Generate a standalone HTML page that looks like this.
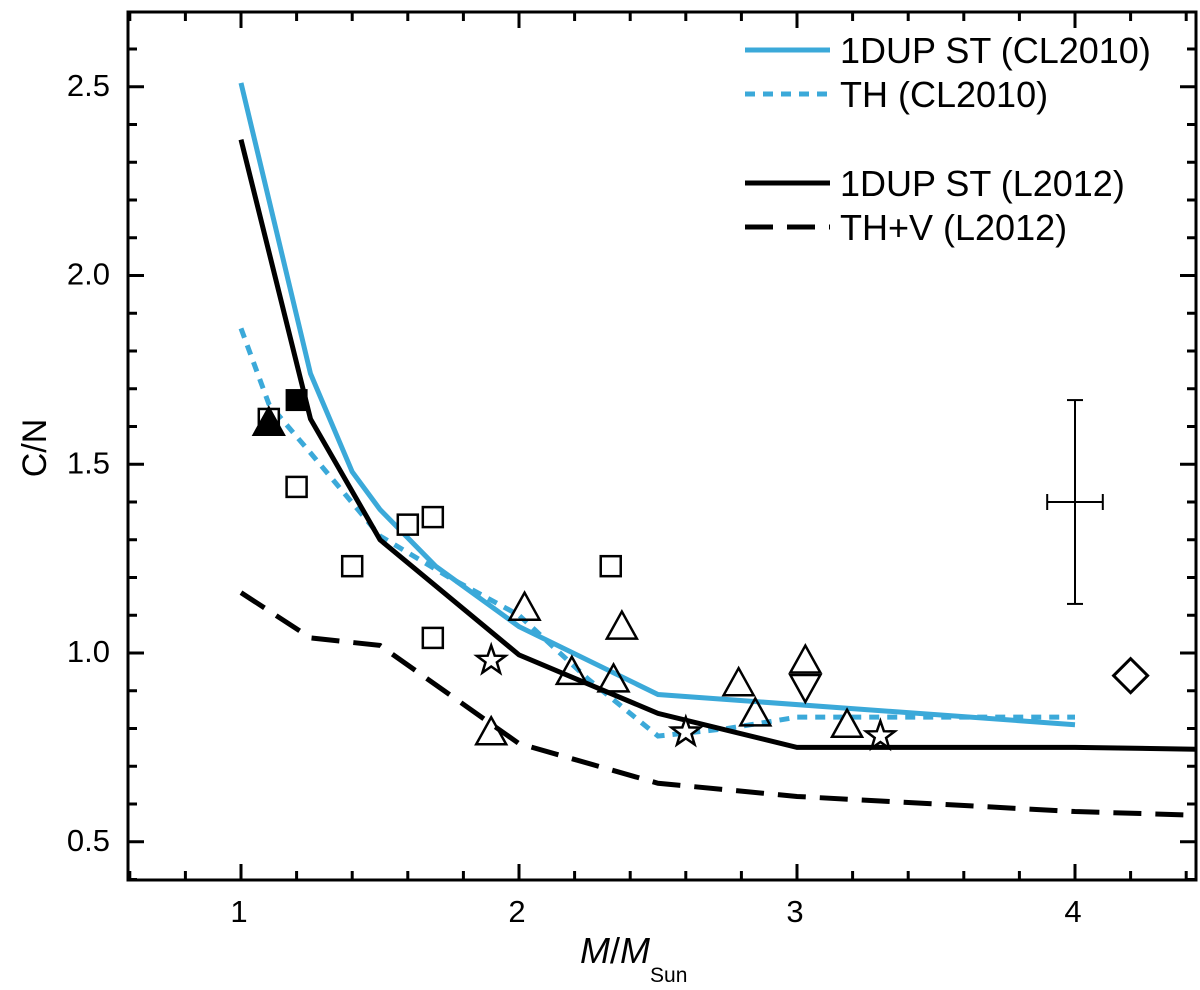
<!DOCTYPE html>
<html><head><meta charset="utf-8"><style>
body{margin:0;background:#fff}
svg text{font-family:"Liberation Sans",Arial,sans-serif;fill:#000}
</style></head><body>
<svg id="chart" width="1200" height="985" viewBox="0 0 1200 985" xmlns="http://www.w3.org/2000/svg"></svg>
<script>
const blueSolidX=[1,1.25,1.4,1.5,1.7,2,2.5,4];
const blueSolidY=[2.51,1.74,1.48,1.38,1.23,1.07,0.89,0.81];
const blueDashX=[1,1.1,1.25,1.5,1.75,2,2.25,2.5,2.75,3,3.5,4];
const blueDashY=[1.86,1.66,1.53,1.31,1.2,1.1,0.93,0.78,0.80,0.83,0.83,0.83];
const blackSolidX=[1,1.25,1.5,2,2.5,3,4,4.45];
const blackSolidY=[2.36,1.62,1.30,0.995,0.84,0.75,0.75,0.745];
const blackDashX=[1,1.25,1.5,2,2.5,3,4,4.45];
const blackDashY=[1.16,1.04,1.02,0.76,0.655,0.62,0.58,0.57];
const sqX=[1.1,1.2,1.4,1.6,1.69,1.69,2.33];
const sqY=[1.62,1.44,1.23,1.34,1.36,1.04,1.23];
const triX=[2.02,2.37,2.19,2.34,1.9,2.79,2.85,3.03,3.18];
const triY=[1.12,1.07,0.95,0.93,0.79,0.92,0.84,0.98,0.81];
const starX=[1.9,2.6,3.3];
const starY=[0.98,0.79,0.78];
const xTicks=[1,2,3,4];
const yTicks=[0.5,1.0,1.5,2.0,2.5];

const NS="http://www.w3.org/2000/svg";
const svg=document.getElementById('chart');
const L=128,R=1196,T=12,B=880;
const X=v=>241+(v-1)*278;
const Y=v=>653-(v-1)*377.5;
function mk(tag,attrs,parent){const e=document.createElementNS(NS,tag);for(const k in attrs)e.setAttribute(k,attrs[k]);(parent||svg).appendChild(e);return e;}
const clip=mk('clipPath',{id:'pc'});mk('rect',{x:L,y:T,width:R-L,height:B-T},clip);
const g=mk('g',{'clip-path':'url(#pc)'});
const f=mk('rect',{x:L,y:T,width:R-L,height:B-T,fill:'none',stroke:'#000','stroke-width':3});


for(let v=0.6;v<=4.41;v+=0.2){const x=X(v);const maj=Math.abs(v-Math.round(v))<0.01;const len=maj?16:9;
mk('line',{x1:x,x2:x,y1:B,y2:B-len,stroke:'#000','stroke-width':3});mk('line',{x1:x,x2:x,y1:T,y2:T+len,stroke:'#000','stroke-width':3});}
for(let v=0.4;v<=2.69;v+=0.1){const y=Y(v);const maj=Math.abs(v*2-Math.round(v*2))<0.01;const len=maj?16:9;
mk('line',{x1:L,x2:L+len,y1:y,y2:y,stroke:'#000','stroke-width':3});mk('line',{x1:R,x2:R-len,y1:y,y2:y,stroke:'#000','stroke-width':3});}
xTicks.forEach(v=>{const t=mk('text',{x:X(v)-2,y:922,'text-anchor':'middle','font-size':31});t.textContent=v;

});
yTicks.forEach(v=>{const t=mk('text',{x:110,y:Y(v)+9,'text-anchor':'end','font-size':31});t.textContent=v.toFixed(1);

});
const xt=mk('text',{x:580,y:963,'font-size':36});xt.innerHTML='<tspan font-style="italic">M</tspan>/<tspan font-style="italic">M</tspan><tspan font-size="21" dy="19">Sun</tspan>';


const yt=mk('text',{x:46,y:448,'text-anchor':'middle','font-size':34,transform:'rotate(-90 46 448)'});yt.textContent='C/N';


function line(xs,ys,color,dash,name){const p=mk('polyline',{points:xs.map((x,i)=>X(x)+','+Y(ys[i])).join(' '),fill:'none',stroke:color,'stroke-width':5,'stroke-dasharray':dash||'none'},g);

}
line(blueSolidX,blueSolidY,'#3ba9d9',null,'line-1dup-cl2010');
line(blueDashX,blueDashY,'#3ba9d9','10 8','line-th-cl2010');
line(blackSolidX,blackSolidY,'#000',null,'line-1dup-l2012');
line(blackDashX,blackDashY,'#000','28 14','line-thv-l2012');
sqX.forEach((x,i)=>{const r=mk('rect',{x:X(x)-10,y:Y(sqY[i])-10,width:20,height:20,fill:'#fff',stroke:'#000','stroke-width':2.5},g);

});
const fs=mk('rect',{x:X(1.2)-11,y:Y(1.67)-11,width:22,height:22,fill:'#000'},g);


function tri(x,y,fill,down){const cx=X(x),cy=Y(y),s=down?-1:1;return mk('polygon',{points:`${cx},${cy-15*s} ${cx-15},${cy+12*s} ${cx+15},${cy+12*s}`,fill:fill,stroke:'#000','stroke-width':2.5},g);}
const ft=tri(1.1,1.61,'#000');


triX.forEach((x,i)=>{const t=tri(x,triY[i],'none');

});
const dt=tri(3.03,0.91,'none',true);


starX.forEach((x,i)=>{const cx=X(x),cy=Y(starY[i]);let pts=[];for(let k=0;k<10;k++){const r=k%2?6:15,a=-Math.PI/2+k*Math.PI/5;pts.push((cx+r*Math.cos(a)).toFixed(1)+','+(cy+r*Math.sin(a)).toFixed(1));}
const s=mk('polygon',{points:pts.join(' '),fill:'#fff',stroke:'#000','stroke-width':2.5},g);

});
const dm=mk('polygon',{points:`${X(4.2)},${Y(0.94)-17} ${X(4.2)+17},${Y(0.94)} ${X(4.2)},${Y(0.94)+17} ${X(4.2)-17},${Y(0.94)}`,fill:'#fff',stroke:'#000','stroke-width':3},g);


const eb=mk('g',{stroke:'#000','stroke-width':2},g);


mk('line',{x1:X(4),x2:X(4),y1:Y(1.67),y2:Y(1.13)},eb);
mk('line',{x1:X(4)-8,x2:X(4)+8,y1:Y(1.67),y2:Y(1.67)},eb);
mk('line',{x1:X(4)-8,x2:X(4)+8,y1:Y(1.13),y2:Y(1.13)},eb);
mk('line',{x1:X(3.9),x2:X(4.1),y1:Y(1.4),y2:Y(1.4)},eb);
mk('line',{x1:X(3.9),x2:X(3.9),y1:Y(1.4)-8,y2:Y(1.4)+8},eb);
mk('line',{x1:X(4.1),x2:X(4.1),y1:Y(1.4)-8,y2:Y(1.4)+8},eb);
const leg=[['1DUP ST (CL2010)','#3ba9d9',null,50],['TH (CL2010)','#3ba9d9','10 8',94],['1DUP ST (L2012)','#000',null,183],['TH+V (L2012)','#000','28 14',227]];
leg.forEach(l=>{const gg=mk('g',{});


mk('line',{x1:745,x2:830,y1:l[3],y2:l[3],stroke:l[1],'stroke-width':5,'stroke-dasharray':l[2]||'none'},gg);
const t=mk('text',{x:840,y:l[3]+13,'font-size':36},gg);t.textContent=l[0];});
</script>
</body></html>
